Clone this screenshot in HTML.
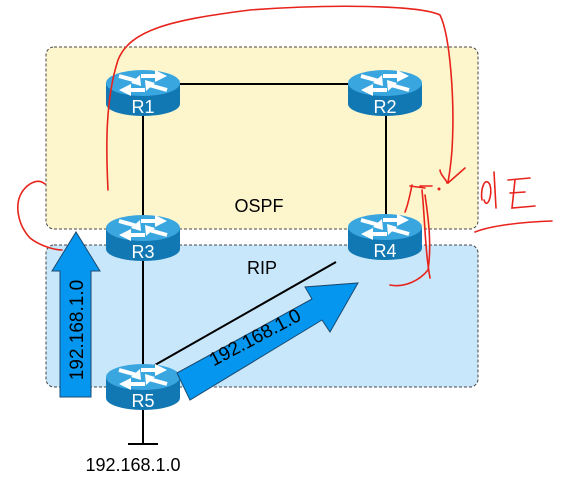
<!DOCTYPE html>
<html><head><style>
html,body{margin:0;padding:0;background:#fff;}
svg{display:block;}
text{font-family:"Liberation Sans",sans-serif;}
</style></head><body>
<svg width="563" height="484" viewBox="0 0 563 484" xmlns="http://www.w3.org/2000/svg">
<defs>
<g id="rt">
  <path d="M-37,0 L-37,21 A37,12 0 0 0 37,21 L37,0 Z" fill="#1278b3"/>
  <ellipse cx="0" cy="0" rx="37" ry="13" fill="#3aa6e0"/>
  <g stroke="#fff" stroke-width="4" fill="none">
    <path d="M-24,-7 L-6,-2"/><path d="M24,7 L6,2"/>
    <path d="M-2,-7 L14,-7"/><path d="M2,7 L-14,7"/>
  </g>
  <g fill="#fff">
    <polygon points="-3,-8 -2,3 -12,0"/><polygon points="3,8 2,-3 12,0"/>
    <polygon points="12,-13 24,-7 12,-1"/><polygon points="-12,13 -24,7 -12,1"/>
  </g>
</g>
</defs>
<rect x="46" y="47" width="432" height="182" rx="8" fill="#fdf6cd" stroke="#444" stroke-dasharray="3,2"/>
<rect x="46" y="245" width="432" height="142" rx="8" fill="#c9e7fa" stroke="#444" stroke-dasharray="3,2"/>
<g stroke="#000" stroke-width="2">
<line x1="143" y1="84" x2="386" y2="84"/>
<line x1="143" y1="95" x2="143" y2="380"/>
<line x1="386" y1="95" x2="386" y2="230"/>
<line x1="155" y1="365" x2="336" y2="262"/>
<line x1="143" y1="390" x2="143" y2="444"/>
<line x1="128" y1="444" x2="158" y2="444"/>
</g>
<text x="259" y="212" font-size="18" text-anchor="middle">OSPF</text>
<text x="262" y="274" font-size="18" text-anchor="middle">RIP</text>
<text x="133" y="471" font-size="18" text-anchor="middle">192.168.1.0</text>
<g font-size="18" fill="#fff" text-anchor="middle">
<use href="#rt" x="143" y="83"/><text x="143" y="113">R1</text>
<use href="#rt" x="385" y="83"/><text x="385" y="113">R2</text>
<use href="#rt" x="143" y="228"/><text x="143" y="258">R3</text>
<use href="#rt" x="385" y="227"/><text x="385" y="257">R4</text>
<use href="#rt" x="143" y="377"/><text x="143" y="407">R5</text>
</g>
<polygon points="60,397 60,271 52,271 76,232 100,271 91,271 91,397" fill="#0597ef" stroke="#1a4a70" stroke-width="1"/>
<text transform="translate(83,330) rotate(-90)" font-size="19" text-anchor="middle">192.168.1.0</text>
<polygon points="177,373 312,299 305,287 358,283 330,332 322,320 190,400" fill="#0597ef" stroke="#1a4a70" stroke-width="1"/>
<text transform="translate(258,343) rotate(-28)" font-size="19" text-anchor="middle">192.168.1.0</text>
<g fill="none" stroke="#e8231b" stroke-width="1.6" stroke-linecap="round">
<path d="M108,190 C106,150 105,100 118,60 C130,30 170,20 250,10 C330,4 420,5 440,15 C450,35 455,100 452,150 C450,175 448,180 448,183"/>
<path d="M448,183 L465,168"/>
<path d="M447,183 C447,180 440,175 440,170"/>
<path d="M390,285 C405,288 420,280 428,270 C432,245 428,215 425,195"/>
<path d="M430,278 C425,250 425,220 422,190"/>
<path d="M410,186 L425,188 M412,185 C410,195 408,205 405,212 M420,186 L432,186"/>
<path d="M45,184 C38,178 28,183 22,192 C14,205 18,225 30,238 C40,246 55,250 62,250"/>
<path d="M482,200 C480,190 485,175 490,185 C493,195 487,210 484,200 M494,172 L496,208"/>
<path d="M508,180 L530,178 M510,193 L525,192 M515,180 L512,208 L535,206"/>
<path d="M475,232 C490,226 520,222 552,221"/>
</g>
<circle cx="439" cy="189" r="1.5" fill="#e8231b"/>
</svg>
</body></html>
